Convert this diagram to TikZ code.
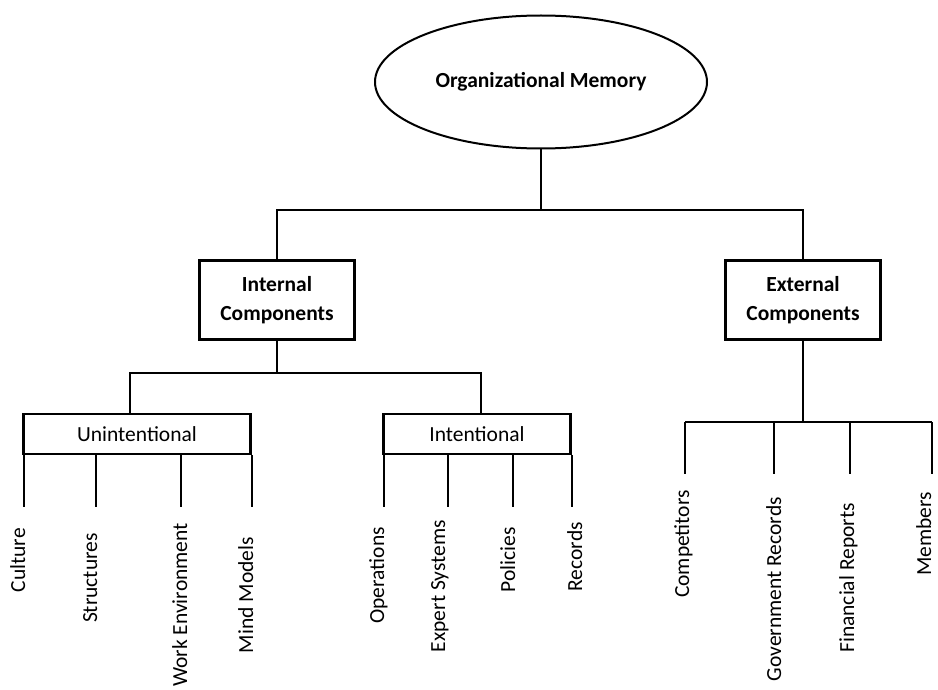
\documentclass[tikz,border=0pt]{standalone}
\usepackage{fontspec}
\setmainfont{Carlito}
\usetikzlibrary{shapes.geometric}
\newcommand{\memsize}{\fontsize{21.5}{29}\selectfont}
\tikzset{
    comp/.style={draw, rectangle, line width=2.8pt, minimum width=155pt, minimum height=79pt, inner sep=0pt, align=center, font=\memsize\bfseries},
    kind/.style={draw, rectangle, line width=2.8pt, minimum height=40pt, inner sep=0pt, font=\memsize},
    trunk/.style={line width=2.8pt},
    leaf/.style={line width=1.4pt},
    lbl/.style={rotate=90, anchor=base east, inner sep=0pt, font=\memsize}
}

\begin{document}
\begin{tikzpicture}[x=1pt, y=-1pt]
\useasboundingbox (0,0) rectangle (938,690);
\node[draw, ellipse, line width=2pt, minimum width=332pt, minimum height=133pt, font=\memsize\bfseries] (mem) at (541,82) {Organizational Memory};
\node[comp] (int) at (277,300) {Internal\\Components};
\node[comp] (ext) at (803,300) {External\\Components};
\coordinate (top) at (541,210);
\draw[trunk] (mem.south) -- (top);
\draw[trunk] (int.north) |- (top) -| (ext.north);
% internal side
\node[kind, minimum width=227pt] (unint) at (137,434) {Unintentional};
\node[kind, minimum width=187pt] (intl) at (477,434) {Intentional};
\coordinate (isplit) at (277,373);
\draw[trunk] (int.south) -- (isplit);
\draw[trunk] ([xshift=-7pt]unint.north) |- (isplit) -| ([xshift=4pt]intl.north);
% unintentional leaves
\coordinate (u1) at (24,507);
\coordinate (u2) at (96,507);
\coordinate (u3) at (181,507);
\coordinate (u4) at (252,507);
\draw[leaf] (u1 |- unint.south) -- (u1);
\draw[leaf] (u2 |- unint.south) -- (u2);
\draw[leaf] (u3 |- unint.south) -- (u3);
\draw[leaf] (u4 |- unint.south) -- (u4);
\node[lbl] (cult) at (25,528) {Culture};
\node[lbl] (struc) at (97,533) {Structures};
\node[lbl] (work) at (187,523) {Work Environment};
\node[lbl] (mind) at (253,537) {Mind Models};
% intentional leaves
\coordinate (i1) at (384,507);
\coordinate (i2) at (448,507);
\coordinate (i3) at (513,507);
\coordinate (i4) at (572,507);
\draw[leaf] (i1 |- intl.south) -- (i1);
\draw[leaf] (i2 |- intl.south) -- (i2);
\draw[leaf] (i3 |- intl.south) -- (i3);
\draw[leaf] (i4 |- intl.south) -- (i4);
\node[lbl] (oper) at (384,527) {Operations};
\node[lbl] (expert) at (445,520) {Expert Systems};
\node[lbl] (polic) at (515,527) {Policies};
\node[lbl] (recs) at (582,522) {Records};
% external side
\coordinate (ebar) at (803,422);
\coordinate (e1) at (685,474);
\coordinate (e2) at (774,474);
\coordinate (e3) at (850,474);
\coordinate (e4) at (932,474);
\draw[trunk] (ext.south) -- (ebar);
\draw[trunk] (e1 |- ebar) -- (e4 |- ebar);
\draw[leaf] (e1 |- ebar) -- (e1);
\draw[leaf] (e2 |- ebar) -- (e2);
\draw[leaf] (e3 |- ebar) -- (e3);
\draw[leaf] (e4 |- ebar) -- (e4);
\node[lbl] (comp) at (689,490) {Competitors};
\node[lbl] (gov) at (781,497) {Government Records};
\node[lbl] (fin) at (854,503) {Financial Reports};
\node[lbl] (memb) at (931,492) {Members};
\end{tikzpicture}
\end{document}
